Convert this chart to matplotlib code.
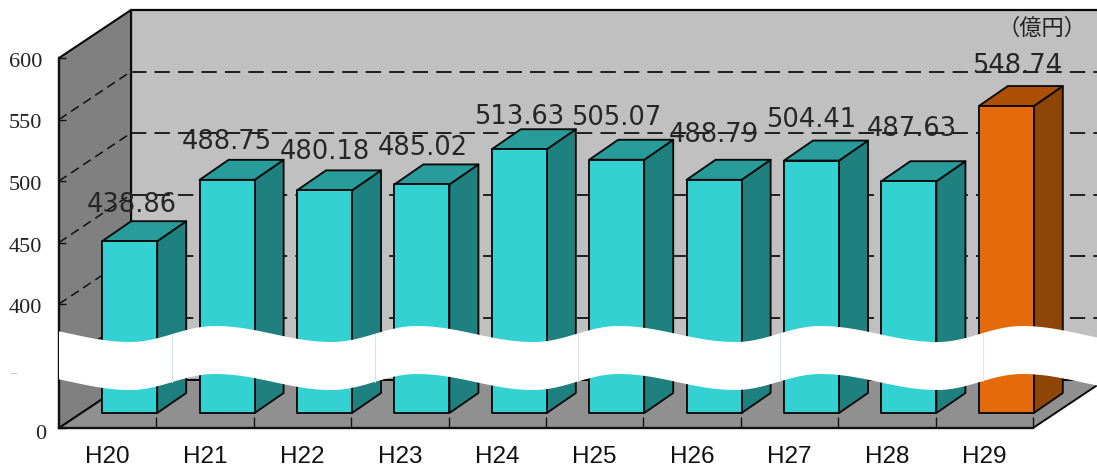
import numpy as np
import matplotlib
matplotlib.use("Agg")
import matplotlib.pyplot as plt
from matplotlib.patches import Polygon
from matplotlib.lines import Line2D
from matplotlib.ticker import FixedLocator, NullFormatter
from matplotlib.transforms import IdentityTransform, Affine2D

years = ["H20", "H21", "H22", "H23", "H24", "H25", "H26", "H27", "H28", "H29"]
amounts = [438.86, 488.75, 480.18, 485.02, 513.63, 505.07, 488.79, 504.41, 487.63, 548.74]
y_ticks = [0, 400, 450, 500, 550, 600]
grid_levels = [350, 400, 450, 500, 550]

# hand placed value labels, pixels from the front plane point of each bar
label_dx = [24, 22, 22, 23, 22, 22, 22, 22, 25, 33]
label_dy = [51, 53, 53, 51, 47, 57, 60, 56, 67, 55]

W, H = 1097, 470
# the axis is cut between 0 and 350, everything above is linear
scale_v = [-1000, 0, 350, 600, 2000]
scale_p = [42 - 1000, 42, 104.5, 412, 412 + 1722]


def forward(v):
    return np.interp(v, scale_v, scale_p)


def inverse(p):
    return np.interp(p, scale_p, scale_v)


fig = plt.figure(figsize=(W / 100, H / 100), dpi=100)
ax = fig.add_axes([59 / W, 42 / H, 974 / W, 370 / H])
ax.set_xlim(-0.5, 9.5)
ax.set_yscale("function", functions=(forward, inverse))
ax.set_ylim(0, 600)
ax.patch.set_visible(False)
ax.spines["top"].set_visible(False)
ax.spines["right"].set_visible(False)
ax.spines["left"].set_linewidth(1.7)
ax.spines["bottom"].set_linewidth(1.7)
ax.spines["left"].set_color("#111111")
ax.spines["bottom"].set_color("#111111")

# depth of the box and of the bars, in pixels
WALL_DX, WALL_DY = 72, 48
BAR_SHIFT_DX, BAR_SHIFT_DY = 22, 15
BAR_DX, BAR_DY = 29, 20
BAR_WIDTH = 0.565


def to_px(x, v, dx=0, dy=0):
    px, py = ax.transData.transform((x, v))
    return (px + dx, py + dy)


def face(pts, color, z=1, lw=1.35, edge="#0a0a0a"):
    ax.add_patch(Polygon(pts, closed=True, facecolor=color, edgecolor=edge, linewidth=lw,
                         transform=IdentityTransform(), clip_on=False, zorder=z, joinstyle="round"))


def line(pts, z=1.5, lw=1.3, color="#111111", **kw):
    xs, ys = zip(*pts)
    ax.add_line(Line2D(xs, ys, color=color, linewidth=lw, transform=IdentityTransform(),
                       clip_on=False, zorder=z, **kw))


# back wall, side wall and floor
right_end = 10.0
face([to_px(-0.5, 0, WALL_DX, WALL_DY), to_px(right_end, 0, WALL_DX, WALL_DY),
      to_px(right_end, 600, WALL_DX, WALL_DY), to_px(-0.5, 600, WALL_DX, WALL_DY)], "#c0c0c0", z=1, lw=1.6)
face([to_px(-0.5, 0), to_px(-0.5, 0, WALL_DX, WALL_DY),
      to_px(-0.5, 600, WALL_DX, WALL_DY), to_px(-0.5, 600)], "#808080", z=1.1, lw=1.5)
face([to_px(-0.5, 0), to_px(9.5, 0), to_px(9.5, 0, WALL_DX, WALL_DY),
      to_px(right_end, 0, WALL_DX, WALL_DY), to_px(-0.5, 0, WALL_DX, WALL_DY)], "#909090", z=1.2, lw=1.4)

# dashed grid on the back wall and the side wall
dash = (0, (8.5, 4.5))
for level in grid_levels:
    line([to_px(-0.5, level, WALL_DX, WALL_DY), to_px(right_end, level, WALL_DX, WALL_DY)], ls=dash)
    line([to_px(-0.5, level), to_px(-0.5, level, WALL_DX, WALL_DY)], ls=(0, (6, 3.5)), lw=1.1)

# bars
for i, value in enumerate(amounts):
    last = i == len(amounts) - 1
    front_c, top_c, side_c = ("#e56b0a", "#ad5005", "#8f4505") if last else ("#33d1d1", "#279c9b", "#1f817f")
    x0, x1 = i - BAR_WIDTH / 2, i + BAR_WIDTH / 2
    sx, sy = BAR_SHIFT_DX, BAR_SHIFT_DY
    bx, by = sx + BAR_DX, sy + BAR_DY
    face([to_px(x1, 0, sx, sy), to_px(x1, 0, bx, by), to_px(x1, value, bx, by), to_px(x1, value, sx, sy)], side_c, z=2)
    face([to_px(x0, value, sx, sy), to_px(x1, value, sx, sy), to_px(x1, value, bx, by), to_px(x0, value, bx, by)], top_c, z=2)
    face([to_px(x0, 0, sx, sy), to_px(x1, 0, sx, sy), to_px(x1, value, sx, sy), to_px(x0, value, sx, sy)], front_c, z=2.1)

# ticks and labels
ax.yaxis.set_major_locator(FixedLocator(y_ticks))
ax.yaxis.set_minor_locator(FixedLocator([]))
ax.set_yticklabels([str(t) for t in y_ticks], family="Liberation Serif", fontsize=16, color="#222222")
ax.tick_params(axis="y", which="major", direction="in", length=5, width=1.0, pad=12, color="#111111")
for lab, t in zip(ax.get_yticklabels(), y_ticks):
    shift = (4, -4) if t == 0 else (0, -2)
    lab.set_transform(lab.get_transform() + Affine2D().translate(*shift))

ax.set_xticks(range(len(years)))
ax.set_xticklabels(years, family="Liberation Sans", fontsize=17.5, color="#111111")
ax.set_xticks(np.arange(0.5, 9.6, 1), minor=True)
ax.xaxis.set_minor_formatter(NullFormatter())
ax.tick_params(axis="x", which="major", length=0, pad=13)
ax.tick_params(axis="x", which="minor", direction="in", length=8, width=1.0, color="#111111")

# white wavy band marking the cut in the axis
xs = np.linspace(59, W + 2, 800)
period = 201.8
theta = np.interp((xs - 130) % period, [0, 85, period], [0, np.pi, 2 * np.pi])
top_edge = 334 + 8 * np.cos(theta)
band_h = 48
band_top = H - top_edge
band_bot = H - (top_edge + band_h)
ax.add_patch(Polygon(np.r_[np.c_[xs, band_top], np.c_[xs, band_bot][::-1]], closed=True, facecolor="white",
                     edgecolor="none", transform=IdentityTransform(), clip_on=False, zorder=6))
for k, seam in enumerate([172, 375, 578, 780, 983]):
    y_seam = np.interp(seam, xs, band_top)
    line([(seam, y_seam), (seam, y_seam - band_h)], z=6.1, lw=0.7,
         color="#fbe0cc" if k == 4 else "#cfe6e4")
line([(11, H - 373), (16, H - 373)], z=6.1, lw=0.8, color="#c8c8c8")

# value labels
for i, value in enumerate(amounts):
    ax.annotate(f"{value:.2f}", xy=(i, value), xytext=(label_dx[i], label_dy[i]), textcoords="offset pixels",
                ha="center", va="center", fontsize=18.5, color="#262626", family="DejaVu Sans",
                annotation_clip=False, zorder=7)

fig.text(1042 / W, 1 - 28 / H, "（億円）", ha="center", va="center", fontsize=16,
         family=["Noto Sans CJK JP", "DejaVu Sans"], color="#222222")

fig.savefig("out.png", dpi=100)
